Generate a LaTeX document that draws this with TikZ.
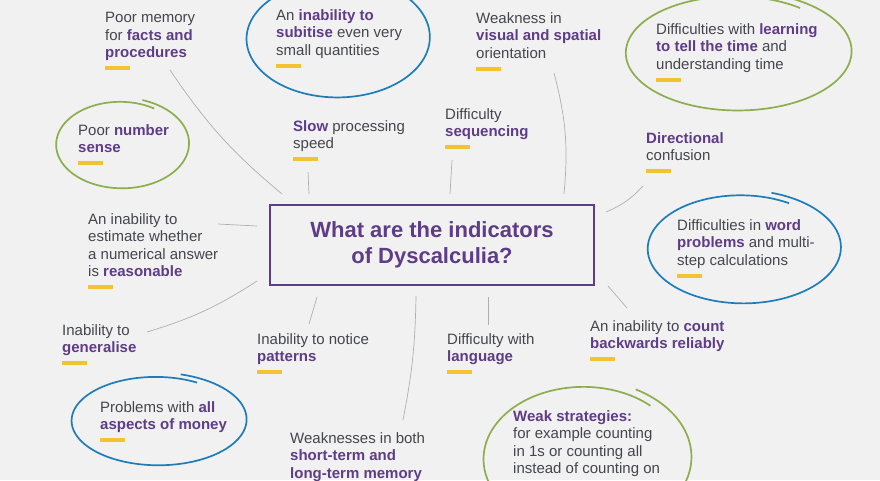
\documentclass[tikz,border=0pt]{standalone}
\usepackage{fontspec}
\setmainfont{Liberation Sans}
\usepackage{xcolor}
\usetikzlibrary{calc}

\definecolor{dyspurple}{HTML}{5E3C87}
\definecolor{dysgray}{HTML}{45454F}
\definecolor{dysyellow}{HTML}{F4C430}
\definecolor{dysblue}{HTML}{1E7DB8}
\definecolor{dysgreen}{HTML}{8DAE4C}
\definecolor{dysbg}{HTML}{F1F1F1}
\definecolor{dysline}{HTML}{AFAFAF}

\newcommand\hl[1]{\textcolor{dyspurple}{\textbf{#1}}}
% hand-drawn loop: cx, cy, rx, ry, start angle, colour
\newcommand\handring[6]{%
  \draw[ring,#6] plot[domain=0:374,samples=110,smooth]
    ({#1+#3*(1.05-0.1*\x/374)*cos(\x+#5)},{#2+#4*(1.05-0.1*\x/374)*sin(\x+#5)});}

\begin{document}
\begin{tikzpicture}[x=1pt,y=-1pt,
    font=\fontsize{15}{17.5}\selectfont,
    item/.style={anchor=north west,inner sep=0pt,align=left,text=dysgray,
      execute at begin node=\strut,execute at end node=\strut},
    box/.style={draw=dyspurple,line width=2pt,minimum width=324pt,
      minimum height=80pt,align=center,text=dyspurple,
      font=\fontsize{22}{26}\selectfont\bfseries},
    link/.style={draw=dysline,line width=0.7pt},
    tick/.style={draw=dysyellow,line width=4pt},
    ring/.style={line width=1.7pt}]
  \useasboundingbox (0,0) rectangle (880,480);
  \fill[dysbg] (0,0) rectangle (880,480);

  % loops round some of the indicators
  \handring{336}{38}{91}{59}{-70}{dysblue}
  \handring{736}{52}{112}{58}{-67}{dysgreen}
  \handring{121}{144}{66}{44}{-72}{dysgreen}
  \handring{742}{248}{96}{55}{-73}{dysblue}
  \handring{157}{420}{87}{45}{-75}{dysblue}
  \handring{585}{458}{103}{74}{-62}{dysgreen}

  \node[box] (q) at (432,245) {What are the indicators\\of Dyscalculia?};

  \node[item] (mem)  at (105,12)  {Poor memory\\for \hl{facts and}\\\hl{procedures}};
  \node[item] (sub)  at (276,9)   {An \hl{inability to}\\\hl{subitise} even very\\small quantities};
  \node[item] (vis)  at (476,12)  {Weakness in\\\hl{visual and spatial}\\orientation};
  \node[item] (time) at (656,23)  {Difficulties with \hl{learning}\\\hl{to tell the time} and\\understanding time};
  \node[item] (num)  at (78,124)  {Poor \hl{number}\\\hl{sense}};
  \node[item] (slow) at (293,120) {\hl{Slow} processing\\speed};
  \node[item] (seq)  at (445,108) {Difficulty\\\hl{sequencing}};
  \node[item] (dir)  at (646,132) {\hl{Directional}\\confusion};
  \node[item] (est)  at (88,213)  {An inability to\\estimate whether\\a numerical answer\\is \hl{reasonable}};
  \node[item] (word) at (677,219) {Difficulties in \hl{word}\\\hl{problems} and multi-\\step calculations};
  \node[item] (gen)  at (62,324)  {Inability to\\\hl{generalise}};
  \node[item] (pat)  at (257,333) {Inability to notice\\\hl{patterns}};
  \node[item] (lang) at (447,333) {Difficulty with\\\hl{language}};
  \node[item] (cnt)  at (590,320) {An inability to \hl{count}\\\hl{backwards reliably}};
  \node[item] (mon)  at (100,401) {Problems with \hl{all}\\\hl{aspects of money}};
  \node[item] (stm)  at (290,432) {Weaknesses in both\\\hl{short-term and}\\\hl{long-term memory}};
  \node[item] (weak) at (513,410) {\hl{Weak strategies:}\\for example counting\\in 1s or counting all\\instead of counting on};

  % yellow marks under the texts
  \foreach \n in {mem,sub,vis,time,num,slow,seq,dir,est,word,gen,pat,lang,cnt,mon}
    \draw[tick] ($(\n.south west)+(0,5)$) -- ++(25,0);

  % connectors to the question
  \draw[link] ($(mem.north west)+(65,58)$) to[bend right=8] ($(q.north west)+(13,-10)$);
  \draw[link] ($(slow.north west)+(15,52)$) -- ($(q.north west)+(40,-10)$);
  \draw[link] ($(seq.north west)+(7,52)$) -- ($(q.north)+(18,-10)$);
  \draw[link] ($(vis.north west)+(78,61)$) to[bend left=10] ($(q.north east)+(-31,-10)$);
  \draw[link] ($(dir.north west)+(-3,54)$) to[bend left=12] ($(q.north east)+(11,8)$);
  \draw[link] ($(est.north west)+(130,11)$) -- ($(q.north west)+(-12,22)$);
  \draw[link] ($(gen.north west)+(85,8)$) to[bend right=8] ($(q.south west)+(-12,-5)$);
  \draw[link] ($(pat.north west)+(52,-9)$) -- ($(q.south west)+(48,11)$);
  \draw[link] ($(stm.north west)+(113,-12)$) to[bend right=5] ($(q.south)+(-16,10)$);
  \draw[link] ($(lang.north west)+(41,-8)$) -- ($(q.south)+(56,11)$);
  \draw[link] ($(cnt.north west)+(37,-12)$) -- ($(q.south east)+(13,0)$);
\end{tikzpicture}
\end{document}
